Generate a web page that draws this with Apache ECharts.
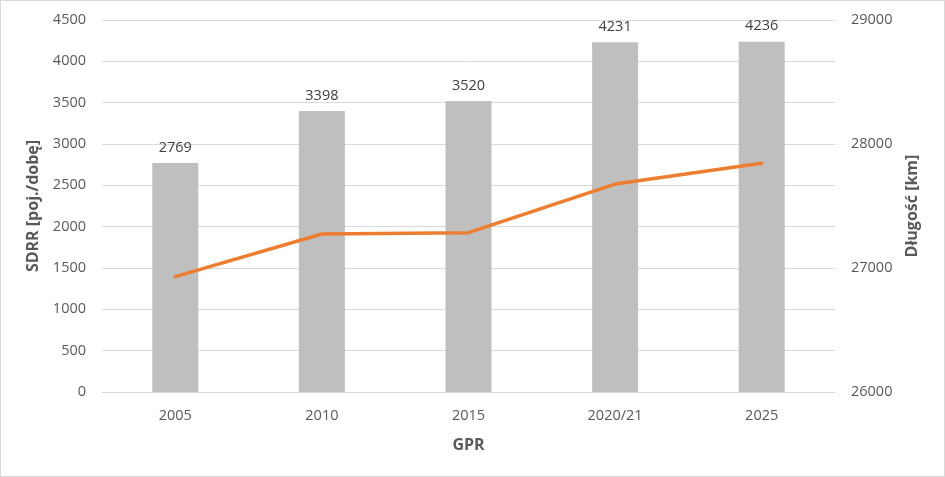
<!DOCTYPE html>
<html><head><meta charset="utf-8">
<script src="https://cdn.jsdelivr.net/npm/echarts@6/dist/echarts.min.js"></script>
<style>
html,body{margin:0;padding:0;background:#fff;}
#c{position:absolute;left:0;top:0;width:943px;height:475px;border:1px solid #d9d9d9;}
</style></head><body>
<div id="c"></div>
<script>
const categories = ['2005','2010','2015','2020/21','2025'];
const sdrrValues = [2769, 3398, 3520, 4231, 4236];
const lengthValues = [26930, 27274, 27285, 27677, 27844];
const leftAxisName = 'SDRR [poj./dobę]';
const rightAxisName = 'Długość [km]';
const xAxisName = 'GPR';

const FONT = '"Open Sans", "Noto Sans", sans-serif';
const TICK = 14.5;
const TITLE = 16;
const plain = v => String(v);
const chart = echarts.init(document.getElementById('c'));
chart.setOption({
  animation: false,
  textStyle: {fontFamily: FONT},
  grid: {left: 101, right: 109, top: 19, bottom: 84, containLabel: false},
  xAxis: {
    type: 'category', data: categories,
    name: xAxisName, nameLocation: 'middle', nameGap: 45,
    nameTextStyle: {fontFamily: FONT, fontSize: TITLE, fontWeight: 'bold', color: '#595959'},
    axisLine: {lineStyle: {color: '#d9d9d9', width: 1}},
    axisTick: {show: false},
    axisLabel: {fontFamily: FONT, fontSize: TICK, color: '#595959', margin: 16}
  },
  yAxis: [{
    type: 'value', min: 0, max: 4500, interval: 500,
    name: leftAxisName, nameLocation: 'middle', nameGap: 59, nameRotate: 90,
    nameTextStyle: {fontFamily: FONT, fontSize: TITLE, fontWeight: 'bold', color: '#595959'},
    axisLine: {show: false}, axisTick: {show: false},
    axisLabel: {fontFamily: FONT, fontSize: TICK, color: '#595959', margin: 16, formatter: plain},
    splitLine: {lineStyle: {color: '#d9d9d9', width: 1}}
  }, {
    type: 'value', min: 26000, max: 29000, interval: 1000, position: 'right',
    name: rightAxisName, nameLocation: 'middle', nameGap: 69, nameRotate: 90,
    nameTextStyle: {fontFamily: FONT, fontSize: TITLE, fontWeight: 'bold', color: '#595959'},
    axisLine: {show: false}, axisTick: {show: false},
    axisLabel: {fontFamily: FONT, fontSize: TICK, color: '#595959', margin: 16, formatter: plain},
    splitLine: {show: false}
  }],
  series: [{
    type: 'bar', data: sdrrValues, yAxisIndex: 0,
    barWidth: 46,
    itemStyle: {color: '#bfbfbf'},
    label: {show: true, position: 'top', distance: 8, fontFamily: FONT, fontSize: TICK, color: '#404040'}
  }, {
    type: 'line', data: lengthValues, yAxisIndex: 1,
    symbol: 'none', z: 5,
    lineStyle: {color: '#ed7d31', width: 3.5, cap: 'round'}
  }]
});
</script>
</body></html>
